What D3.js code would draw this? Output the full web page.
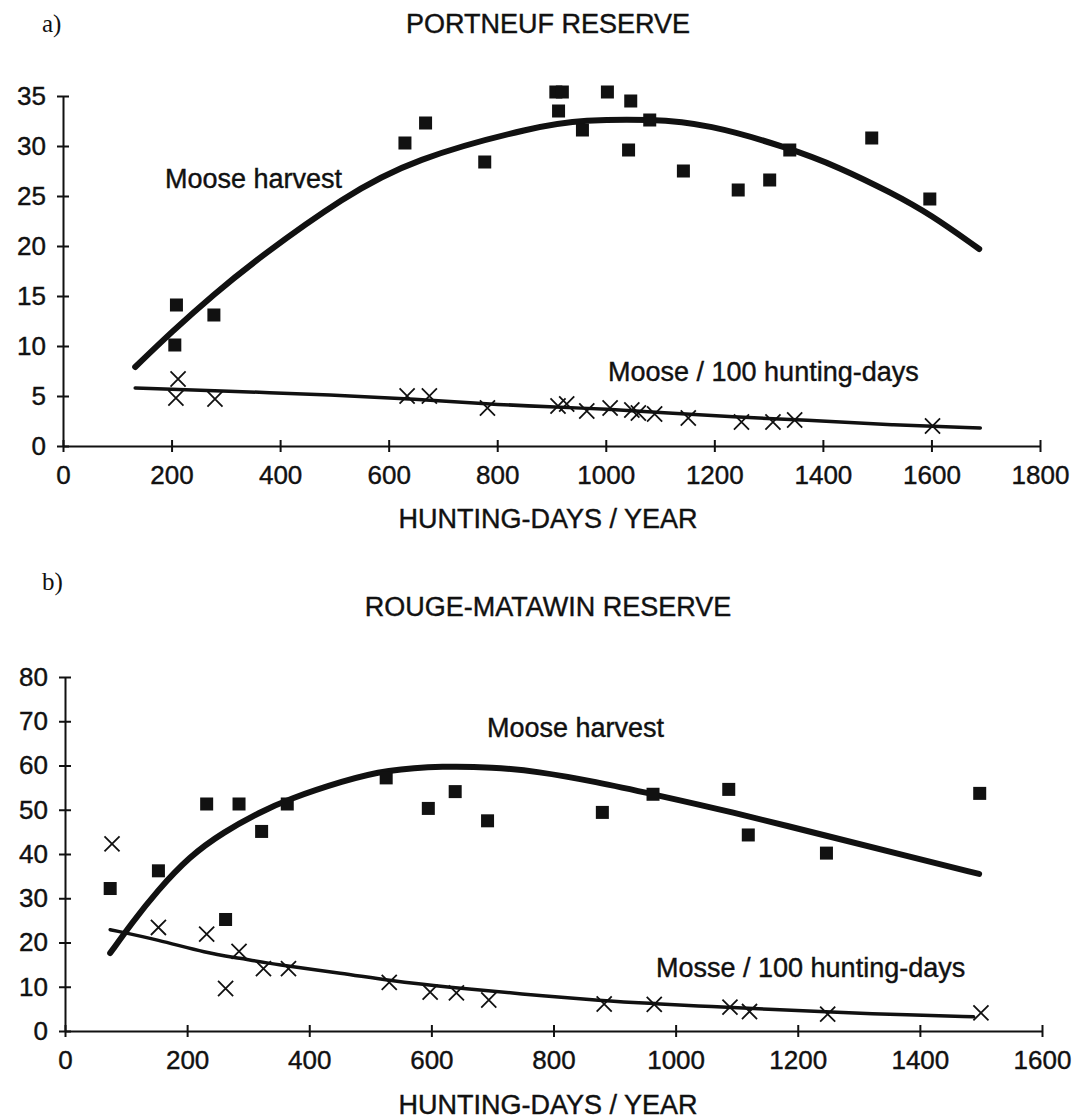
<!DOCTYPE html>
<html>
<head>
<meta charset="utf-8">
<script src="https://cdn.jsdelivr.net/npm/d3@7"></script>
<style>
  body { margin: 0; background: #fff; }
  svg text { font-family: "Liberation Sans", Arial, Helvetica, sans-serif; fill: #111; stroke: #111; stroke-width: 0.4px; }
</style>
</head>
<body>
<div id="chart"></div>
<script>
// ---- a) Portneuf reserve ----
const aTicksX = [0, 200, 400, 600, 800, 1000, 1200, 1400, 1600, 1800];
const aTicksY = [0, 5, 10, 15, 20, 25, 30, 35];
const aHarvestX = [206, 209, 278, 630, 668, 777, 908, 920, 913, 957, 1003, 1042, 1046, 1081, 1143, 1244, 1302, 1339, 1490, 1597];
const aHarvestY = [10.1, 14.1, 13.1, 30.3, 32.3, 28.4, 35.4, 35.4, 33.5, 31.6, 35.4, 29.6, 34.5, 32.6, 27.5, 25.6, 26.6, 29.6, 30.8, 24.7];
const aHarvestFitX = [133, 200, 276, 365, 517, 644, 873, 959, 1083, 1188, 1338, 1429, 1527, 1597, 1688];
const aHarvestFitY = [7.9, 11.4, 15.1, 19.0, 24.9, 28.7, 32.0, 32.6, 32.7, 32.2, 29.8, 27.9, 25.3, 23.2, 19.7];
const aRateX = [208, 212, 280, 634, 675, 782, 912, 928, 965, 1008, 1048, 1060, 1090, 1152, 1250, 1308, 1348, 1602];
const aRateY = [4.8, 6.7, 4.7, 5.0, 5.0, 3.8, 4.0, 4.2, 3.5, 3.8, 3.6, 3.3, 3.2, 2.8, 2.4, 2.4, 2.6, 2.0];
const aRateFitX = [133, 300, 500, 650, 782, 900, 1000, 1115, 1233, 1367, 1527, 1690];
const aRateFitY = [5.8, 5.5, 5.1, 4.7, 4.2, 3.9, 3.7, 3.3, 2.9, 2.6, 2.1, 1.8];

// ---- b) Rouge-Matawin reserve ----
const bTicksX = [0, 200, 400, 600, 800, 1000, 1200, 1400, 1600];
const bTicksY = [0, 10, 20, 30, 40, 50, 60, 70, 80];
const bHarvestX = [74, 153, 232, 263, 285, 322, 364, 526, 595, 639, 692, 880, 963, 1087, 1119, 1247, 1498];
const bHarvestY = [32.2, 36.2, 51.3, 25.2, 51.3, 45.1, 51.3, 57.2, 50.3, 54.1, 47.5, 49.4, 53.5, 54.6, 44.3, 40.2, 53.7];
const bHarvestFitX = [74, 110, 150, 204, 260, 320, 364, 457, 526, 621, 700, 773, 870, 963, 1089, 1247, 1384, 1497];
const bHarvestFitY = [17.6, 24.5, 31.5, 39.5, 45.0, 49.5, 52.3, 56.6, 59.0, 59.9, 59.6, 58.7, 56.3, 53.5, 49.6, 44.1, 39.4, 35.5];
const bRateX = [77, 153, 232, 263, 285, 325, 366, 531, 598, 641, 694, 883, 965, 1089, 1121, 1249, 1500];
const bRateY = [42.3, 23.4, 21.9, 9.6, 18.0, 14.1, 14.1, 11.0, 8.8, 8.6, 7.0, 6.1, 6.0, 5.4, 4.4, 3.8, 4.1];
const bRateFitX = [74, 153, 232, 285, 345, 457, 531, 627, 745, 883, 965, 1060, 1151, 1249, 1384, 1488];
const bRateFitY = [22.9, 20.6, 17.6, 16.5, 15.0, 13.0, 11.4, 9.9, 8.4, 6.8, 6.2, 5.5, 4.9, 4.3, 3.6, 3.2];

const ink = "#111";
const svg = d3.select("#chart").append("svg")
    .attr("width", 1076)
    .attr("height", 1120);

function panel(p) {
    const x = d3.scaleLinear().domain([0, p.ticksX[p.ticksX.length - 1]]).range(p.xRange);
    const y = d3.scaleLinear().domain([0, p.ticksY[p.ticksY.length - 1]]).range(p.yRange);
    const g = svg.append("g");

    // axes, ticks cross the line
    const gx = g.append("g")
        .attr("transform", `translate(0,${p.yRange[0]})`)
        .call(d3.axisBottom(x).tickValues(p.ticksX).tickFormat(d3.format("d"))
            .tickSizeOuter(0).tickSizeInner(6).tickPadding(14));
    gx.selectAll(".tick line").attr("y1", -6).attr("y2", 6);

    const gy = g.append("g")
        .attr("transform", `translate(${p.xRange[0]},0)`)
        .call(d3.axisLeft(y).tickValues(p.ticksY).tickFormat(d3.format("d"))
            .tickSizeOuter(0).tickSizeInner(6).tickPadding(11));
    gy.selectAll(".tick line").attr("x1", 6).attr("x2", -6);

    g.selectAll(".domain, .tick line").attr("stroke", ink).attr("stroke-width", 2);
    g.selectAll(".tick text").style("font-size", "26px");

    // fitted curves
    const line = d3.line().x(d => x(d[0])).y(d => y(d[1])).curve(d3.curveBasis);
    g.append("path")
        .datum(d3.zip(p.harvestFitX, p.harvestFitY))
        .attr("fill", "none").attr("stroke", ink)
        .attr("stroke-width", 6).attr("stroke-linecap", "round")
        .attr("d", line);
    g.append("path")
        .datum(d3.zip(p.rateFitX, p.rateFitY))
        .attr("fill", "none").attr("stroke", ink)
        .attr("stroke-width", 3.5).attr("stroke-linecap", "round")
        .attr("d", line);

    // harvest: filled squares
    g.selectAll(".sq")
        .data(d3.zip(p.harvestX, p.harvestY))
        .join("rect")
        .attr("x", d => x(d[0]) - 6.5)
        .attr("y", d => y(d[1]) - 6.5)
        .attr("width", 13).attr("height", 13)
        .attr("fill", ink);

    // rate: crosses
    const cross = d3.symbol().type(d3.symbolX).size(150);
    g.selectAll(".cx")
        .data(d3.zip(p.rateX, p.rateY))
        .join("path")
        .attr("transform", d => `translate(${x(d[0])},${y(d[1])})`)
        .attr("d", cross)
        .attr("fill", "none").attr("stroke", ink).attr("stroke-width", 1.8);

    // texts
    g.append("text")
        .attr("x", p.letterX).attr("y", p.letterY)
        .style("font-family", "'Liberation Serif', 'Times New Roman', serif")
        .style("stroke-width", "0")
        .style("font-size", "25px")
        .text(p.letter);
    g.append("text")
        .attr("x", 548).attr("y", p.titleY)
        .attr("text-anchor", "middle")
        .style("font-size", "27px")
        .text(p.title);
    g.append("text")
        .attr("x", 548).attr("y", p.xTitleY)
        .attr("text-anchor", "middle")
        .style("font-size", "27px")
        .text("HUNTING-DAYS / YEAR");
    p.notes.forEach(n => {
        g.append("text")
            .attr("x", n.x).attr("y", n.y)
            .style("font-size", "27px")
            .text(n.text);
    });
}

panel({
    ticksX: aTicksX, ticksY: aTicksY,
    xRange: [63, 1040], yRange: [446, 96],
    harvestX: aHarvestX, harvestY: aHarvestY,
    harvestFitX: aHarvestFitX, harvestFitY: aHarvestFitY,
    rateX: aRateX, rateY: aRateY,
    rateFitX: aRateFitX, rateFitY: aRateFitY,
    letter: "a)", letterX: 42, letterY: 32,
    title: "PORTNEUF RESERVE", titleY: 33,
    xTitleY: 528,
    notes: [
        {text: "Moose harvest", x: 165, y: 188},
        {text: "Moose / 100 hunting-days", x: 608, y: 381}
    ]
});

panel({
    ticksX: bTicksX, ticksY: bTicksY,
    xRange: [65, 1042], yRange: [1031, 677],
    harvestX: bHarvestX, harvestY: bHarvestY,
    harvestFitX: bHarvestFitX, harvestFitY: bHarvestFitY,
    rateX: bRateX, rateY: bRateY,
    rateFitX: bRateFitX, rateFitY: bRateFitY,
    letter: "b)", letterX: 42, letterY: 590,
    title: "ROUGE-MATAWIN RESERVE", titleY: 616,
    xTitleY: 1114,
    notes: [
        {text: "Moose harvest", x: 487, y: 737},
        {text: "Mosse / 100 hunting-days", x: 656, y: 977}
    ]
});
</script>
</body>
</html>
